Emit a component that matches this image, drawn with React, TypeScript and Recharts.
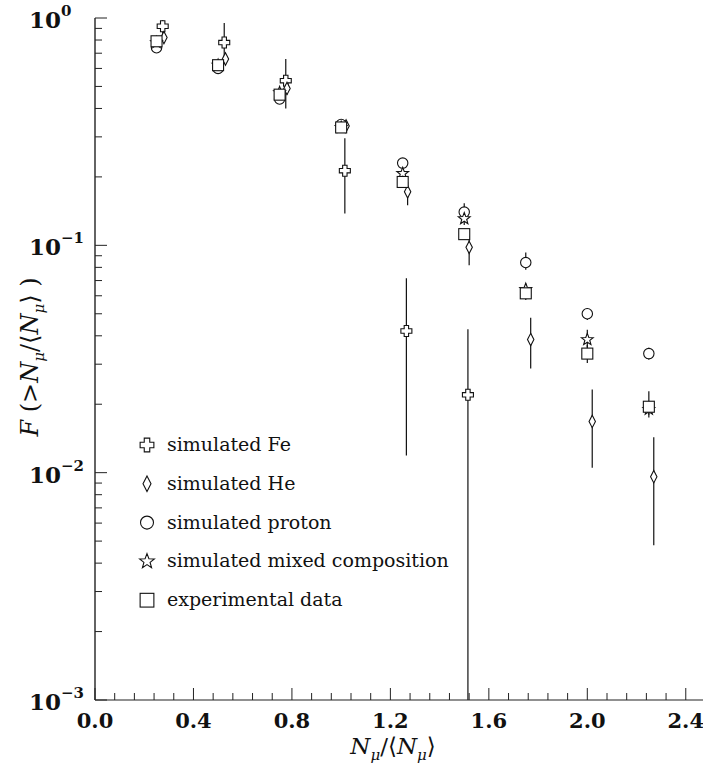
import React from 'react';
import { ScatterChart, Scatter, XAxis, YAxis, ErrorBar, Legend } from 'recharts';

// x positions of the bins (experiment, proton, mixed share the centre; Fe and He sit slightly right)
const binX = [0.25, 0.5, 0.75, 1.0, 1.25, 1.5, 1.75, 2.0, 2.25];
const feX = [0.275, 0.525, 0.775, 1.015, 1.265, 1.515];
const heX = [0.28, 0.53, 0.78, 1.02, 1.27, 1.52, 1.77, 2.02, 2.27];

const feY = [0.92, 0.78, 0.53, 0.213, 0.042, 0.022];
const feErr = [[0.1, 0.06], [0.14, 0.17], [0.13, 0.13], [0.075, 0.083], [0.0301, 0.0296], [0.021, 0.0207]];

const heY = [0.82, 0.66, 0.49, 0.335, 0.172, 0.098, 0.0385, 0.0168, 0.0096];
const heErr = [[0.03, 0.03], [0.03, 0.03], [0.03, 0.03], [0.015, 0.015], [0.022, 0.018], [0.0163, 0.012], [0.0098, 0.0095], [0.0063, 0.0064], [0.0048, 0.0047]];

const protonY = [0.74, 0.6, 0.44, 0.34, 0.23, 0.14, 0.084, 0.05, 0.0334];
const protonErr = [[0.02, 0.02], [0.02, 0.02], [0.02, 0.02], [0.015, 0.015], [0.01, 0.01], [0.008, 0.013], [0.006, 0.009], [0.003, 0.003], [0.002, 0.002]];

const mixedY = [0.78, 0.62, 0.47, 0.33, 0.207, 0.131, 0.064, 0.0385, 0.019];
const mixedErr = [[0.02, 0.02], [0.02, 0.02], [0.02, 0.02], [0.01, 0.01], [0.01, 0.01], [0.008, 0.008], [0.004, 0.004], [0.003, 0.004], [0.0015, 0.0015]];

const expY = [0.79, 0.62, 0.46, 0.33, 0.19, 0.112, 0.0615, 0.0334, 0.0195];
const expErr = [[0.02, 0.02], [0.02, 0.02], [0.02, 0.02], [0.015, 0.015], [0.01, 0.01], [0.006, 0.006], [0.004, 0.004], [0.003, 0.003], [0.0015, 0.0033]];

const xMajor = [0, 0.4, 0.8, 1.2, 1.6, 2.0, 2.4];
const xTicks = Array.from({ length: 31 }, (_, i) => +(i * 0.08).toFixed(2));
const yDecades = [0.001, 0.01, 0.1, 1];
const yTicks = yDecades.flatMap((d) => (d < 1 ? [1, 2, 3, 4, 5, 6, 7, 8, 9].map((m) => +(m * d).toPrecision(3)) : [1]));

const legendItems = [
  { kind: 'cross', label: 'simulated Fe' },
  { kind: 'diamond', label: 'simulated He' },
  { kind: 'circle', label: 'simulated proton' },
  { kind: 'star', label: 'simulated mixed composition' },
  { kind: 'square', label: 'experimental data' },
];

const toPoints = (xs: number[], ys: number[], errs: number[][]) =>
  ys.map((y, i) => ({ x: xs[i], y, err: errs[i] }));

const serif = '"DejaVu Serif", "Liberation Serif", serif';

function Marker({ kind, cx, cy, k = 1 }: { kind: string; cx: number; cy: number; k?: number }) {
  const st = { fill: '#fff', stroke: '#111', strokeWidth: 1.1 };
  if (kind === 'cross') {
    const a = 2.2 * k, L = 5.5 * k;
    const d = `M${cx - a},${cy - L}H${cx + a}V${cy - a}H${cx + L}V${cy + a}H${cx + a}V${cy + L}H${cx - a}V${cy + a}H${cx - L}V${cy - a}H${cx - a}Z`;
    return <path d={d} {...st} />;
  }
  if (kind === 'diamond') {
    const w = 3.2 * k, h = 6.2 * k;
    return <path d={`M${cx},${cy - h}L${cx + w},${cy}L${cx},${cy + h}L${cx - w},${cy}Z`} {...st} />;
  }
  if (kind === 'circle') return <circle cx={cx} cy={cy} r={5.2 * k} {...st} />;
  if (kind === 'square') {
    const s = 5.5 * k;
    return <rect x={cx - s} y={cy - s} width={2 * s} height={2 * s} {...st} />;
  }
  const pts: string[] = [];
  for (let i = 0; i < 10; i++) {
    const r = (i % 2 === 0 ? 6.2 : 2.6) * k;
    const ang = -Math.PI / 2 + (i * Math.PI) / 5;
    pts.push(`${cx + r * Math.cos(ang)},${cy + r * Math.sin(ang)}`);
  }
  return <polygon points={pts.join(' ')} {...st} />;
}

const XTick = (props: any) => {
  const { x, y, payload } = props;
  const v = payload.value as number;
  const major = xMajor.some((m) => Math.abs(m - v) < 1e-6);
  return (
    <g>
      <line x1={x} x2={x} y1={y} y2={y - (major ? 12 : 7)} stroke="#222" strokeWidth={1} />
      {major && (
        <text x={x} y={y + 28} textAnchor="middle" fontFamily={serif} fontWeight="bold" fontSize={21} fill="#111">
          {v.toFixed(1)}
        </text>
      )}
    </g>
  );
};

const YTick = (props: any) => {
  const { x, y, payload } = props;
  const v = payload.value as number;
  const lg = Math.log10(v);
  const e = Math.round(lg);
  const major = Math.abs(lg - e) < 1e-6;
  return (
    <g>
      <line x1={x} x2={x + (major ? 12 : 7)} y1={y} y2={y} stroke="#222" strokeWidth={1} />
      {major && (
        <text x={x - 66} y={y + 10} fontFamily={serif} fontWeight="bold" fontSize={23} fill="#111">
          10
          <tspan dy={-12} fontSize={15}>{e === 0 ? '0' : `\u2212${-e}`}</tspan>
        </text>
      )}
    </g>
  );
};

const XTitle = (props: any) => {
  const vb = props.viewBox || { x: 95, y: 700, width: 608 };
  const cx = vb.x + vb.width / 2 - 6;
  return (
    <text x={cx} y={vb.y + 54} textAnchor="middle" fontFamily={serif} fontSize={23} fill="#111">
      <tspan fontStyle="italic">N</tspan>
      <tspan dy={6} fontSize={15} fontStyle="italic">μ</tspan>
      <tspan dy={-6}>/⟨</tspan>
      <tspan fontStyle="italic">N</tspan>
      <tspan dy={6} fontSize={15} fontStyle="italic">μ</tspan>
      <tspan dy={-6}>⟩</tspan>
    </text>
  );
};

const YTitle = () => (
  <text x={38} y={357} transform="rotate(-90, 38, 357)" textAnchor="middle" fontFamily={serif} fontSize={24} fill="#111">
    <tspan fontStyle="italic">F</tspan>
    <tspan> (&gt;</tspan>
    <tspan fontStyle="italic">N</tspan>
    <tspan dy={6} fontSize={15} fontStyle="italic">μ</tspan>
    <tspan dy={-6}>/⟨</tspan>
    <tspan fontStyle="italic">N</tspan>
    <tspan dy={6} fontSize={15} fontStyle="italic">μ</tspan>
    <tspan dy={-6}>⟩ )</tspan>
  </text>
);

const LegendBox = () => (
  <svg width={360} height={200}>
    {legendItems.map((it, i) => {
      const cy = 19 + i * 38.8;
      return (
        <g key={it.label}>
          <Marker kind={it.kind} cx={17} cy={cy} k={1.25} />
          <text x={37} y={cy + 6} fontFamily={serif} fontSize={19} fill="#111">
            {it.label}
          </text>
        </g>
      );
    })}
  </svg>
);

const shapeOf = (kind: string) => (p: any) => <Marker kind={kind} cx={p.cx} cy={p.cy} />;

export default function App() {
  const series = [
    { name: 'simulated Fe', kind: 'cross', data: toPoints(feX, feY, feErr) },
    { name: 'simulated He', kind: 'diamond', data: toPoints(heX, heY, heErr) },
    { name: 'simulated proton', kind: 'circle', data: toPoints(binX, protonY, protonErr) },
    { name: 'simulated mixed composition', kind: 'star', data: toPoints(binX, mixedY, mixedErr) },
    { name: 'experimental data', kind: 'square', data: toPoints(binX, expY, expErr) },
  ];
  return (
    <div style={{ position: 'absolute', left: 0, top: 0, background: '#fff' }}>
      <ScatterChart width={703} height={772} margin={{ top: 18, right: 0, bottom: 0, left: 0 }}>
        <XAxis
          dataKey="x"
          type="number"
          domain={[0, 2.47]}
          ticks={xTicks}
          interval={0}
          tick={<XTick />}
          tickLine={false}
          tickSize={0}
          tickMargin={0}
          height={72}
          axisLine={{ stroke: '#222', strokeWidth: 1.2 }}
          allowDataOverflow
          label={<XTitle />}
        />
        <XAxis
          xAxisId="top"
          orientation="top"
          dataKey="x"
          type="number"
          domain={[0, 2.47]}
          tick={false}
          tickLine={false}
          height={0}
          axisLine={{ stroke: '#777', strokeWidth: 1.2 }}
        />
        <YAxis
          dataKey="y"
          type="number"
          scale="log"
          domain={[0.001, 1]}
          ticks={yTicks}
          interval={0}
          tick={<YTick />}
          tickLine={false}
          tickSize={0}
          tickMargin={0}
          width={95}
          axisLine={{ stroke: '#222', strokeWidth: 1.4 }}
          allowDataOverflow
          label={<YTitle />}
        />
        <Legend
          layout="vertical"
          align="center"
          verticalAlign="middle"
          wrapperStyle={{ left: 130, top: 426, width: 360, height: 200 }}
          content={() => <LegendBox />}
        />
        {series.map((s) => (
          <Scatter key={s.name} name={s.name} data={s.data} shape={shapeOf(s.kind)} isAnimationActive={false}>
            <ErrorBar dataKey="err" direction="y" width={0} stroke="#111" strokeWidth={1.2} />
          </Scatter>
        ))}
      </ScatterChart>
    </div>
  );
}
